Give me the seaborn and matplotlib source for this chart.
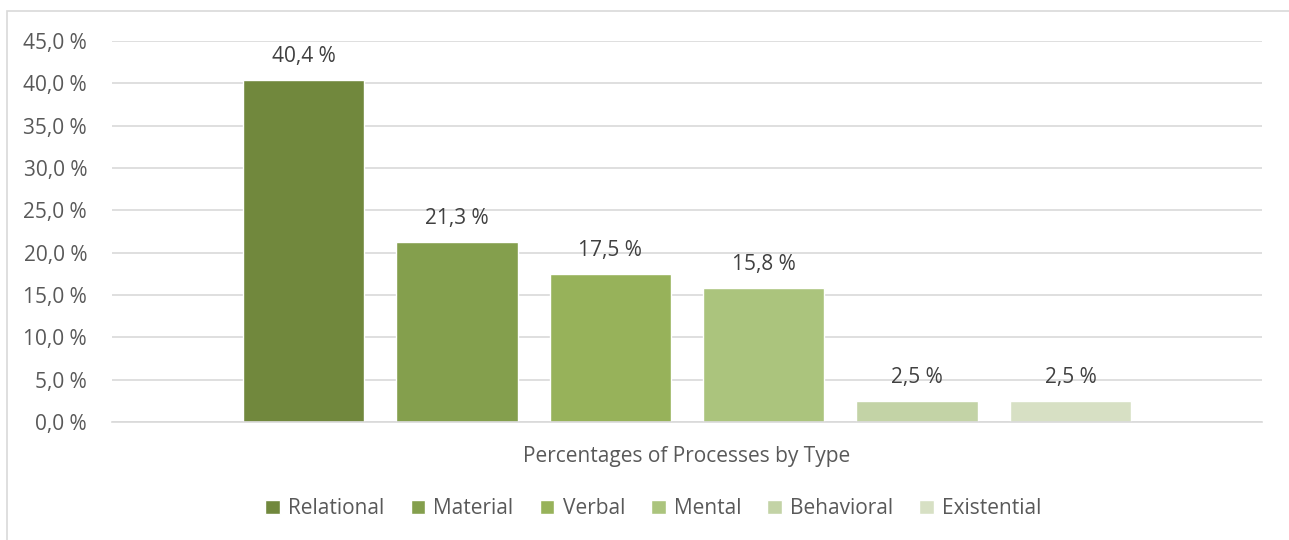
import matplotlib
matplotlib.use("Agg")
import matplotlib.pyplot as plt
from matplotlib.patches import Rectangle
import seaborn as sns
import pandas as pd

# Share of each process type
category = "Percentages of Processes by Type"
process_types = ["Relational", "Material", "Verbal", "Mental", "Behavioral", "Existential"]
percentages = [40.4, 21.3, 17.5, 15.8, 2.5, 2.5]
bar_colors = ["#71883D", "#849F4D", "#97B25A", "#ABC47D", "#C3D3A6", "#D7E0C4"]
y_ticks = [0, 5, 10, 15, 20, 25, 30, 35, 40, 45]

df = pd.DataFrame({
    "category": [category] * len(process_types),
    "type": process_types,
    "pct": percentages,
})

sns.set_theme(style="white")
plt.rcParams["font.family"] = ["Open Sans", "DejaVu Sans"]
text_color = "#595959"
grid_color = "#D9D9D9"
fs = 15

fig = plt.figure(figsize=(12.89, 5.40), dpi=100)
ax = fig.add_axes([0.0869, 0.2185, 0.8922, 0.7055])

sns.barplot(
    data=df, x="category", y="pct", hue="type",
    hue_order=process_types, palette=bar_colors,
    width=0.8, gap=0.21, ax=ax, legend=True, saturation=1,
)

ax.set_xlim(-0.5, 0.5)
ax.set_ylim(0, 45)
ax.set_yticks(y_ticks)
ax.set_yticklabels([f"{v:.1f}".replace(".", ",") + " %" for v in y_ticks],
                   color=text_color, fontsize=fs)
ax.set_xticks([0])
ax.set_xticklabels([category], color=text_color, fontsize=fs)
ax.tick_params(axis="x", length=0, pad=17)
ax.tick_params(axis="y", length=0, pad=18)
ax.set_xlabel("")
ax.set_ylabel("")

ax.yaxis.grid(True, color=grid_color, linewidth=1.2)
ax.set_axisbelow(True)
for side in ["top", "right", "left"]:
    ax.spines[side].set_visible(False)
ax.spines["bottom"].set_color(grid_color)
ax.spines["bottom"].set_linewidth(1.2)

# Value labels above each bar
for container, val in zip(ax.containers, percentages):
    for bar in container:
        ax.annotate(f"{val:.1f}".replace(".", ",") + " %",
                    (bar.get_x() + bar.get_width() / 2, bar.get_height()),
                    xytext=(0, 17), textcoords="offset points",
                    ha="center", va="center", fontsize=fs, color="#404040")

ax.legend_.remove()
handles = [Rectangle((0, 0), 1, 1, facecolor=c) for c in bar_colors]
fig.legend(handles, process_types, loc="center", bbox_to_anchor=(0.507, 0.058),
           ncol=len(process_types), frameon=False, fontsize=fs,
           handlelength=0.7, handleheight=0.7, handletextpad=0.4,
           columnspacing=1.25, labelcolor=text_color)

# Chart area outline
fig.patches.append(Rectangle((0.0054, -0.1), 1.2, 1.0796, transform=fig.transFigure,
                             fill=False, edgecolor=grid_color, linewidth=1.2))

fig.savefig("out.png", dpi=100)
